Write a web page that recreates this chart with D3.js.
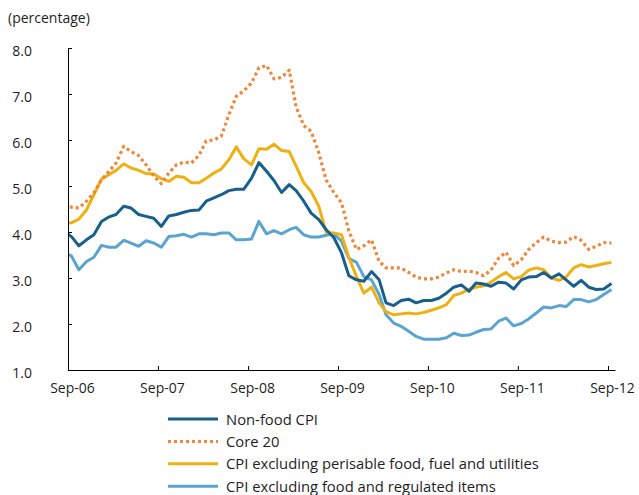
<!DOCTYPE html>
<html>
<head>
<meta charset="utf-8">
<script src="https://cdn.jsdelivr.net/npm/d3@7"></script>
<style>
  body { margin: 0; background: #fff; }
  text { font-family: "Open Sans", sans-serif; fill: #1e1e1e; }
</style>
</head>
<body>
<svg id="chart" width="639" height="495"></svg>
<script>
// Monthly year-on-year inflation measures, Aug-06 to Sep-12 (per cent)
const firstMonth = "Aug-06";
const lastMonth = "Sep-12";

const nonFoodCPI = [
  4.02, 3.90, 3.70, 3.83, 3.94, 4.23, 4.33, 4.38, 4.56, 4.52, 4.38, 4.34,
  4.30, 4.12, 4.35, 4.38, 4.43, 4.47, 4.48, 4.67, 4.74, 4.81, 4.90, 4.93,
  4.93, 5.17, 5.51, 5.32, 5.12, 4.86, 5.03, 4.90, 4.67, 4.41, 4.27, 4.05,
  3.88, 3.55, 3.05, 2.96, 2.93, 3.14, 2.96, 2.46, 2.40, 2.51, 2.54, 2.46,
  2.51, 2.51, 2.56, 2.67, 2.80, 2.85, 2.71, 2.89, 2.87, 2.82, 2.91, 2.89,
  2.76, 2.96, 3.02, 3.03, 3.12, 3.00, 3.09, 2.96, 2.82, 2.95, 2.80, 2.75,
  2.76, 2.88
];

const core20 = [
  4.56, 4.54, 4.52, 4.67, 4.85, 5.14, 5.32, 5.50, 5.86, 5.75, 5.66, 5.46,
  5.21, 5.05, 5.28, 5.46, 5.52, 5.50, 5.67, 5.98, 6.00, 6.08, 6.55, 6.95,
  7.07, 7.24, 7.57, 7.62, 7.33, 7.36, 7.52, 6.72, 6.31, 6.19, 5.72, 5.13,
  4.86, 4.64, 4.02, 3.62, 3.70, 3.83, 3.36, 3.22, 3.22, 3.22, 3.12, 3.02,
  2.98, 2.98, 3.02, 3.11, 3.18, 3.14, 3.15, 3.12, 3.05, 3.17, 3.43, 3.56,
  3.27, 3.40, 3.62, 3.77, 3.89, 3.80, 3.77, 3.78, 3.90, 3.82, 3.62, 3.69,
  3.77, 3.76
];

const cpiExPerishFuelUtil = [
  4.18, 4.20, 4.28, 4.48, 4.81, 5.15, 5.25, 5.34, 5.48, 5.39, 5.34, 5.27,
  5.26, 5.16, 5.10, 5.21, 5.19, 5.07, 5.07, 5.17, 5.28, 5.37, 5.57, 5.85,
  5.59, 5.46, 5.81, 5.80, 5.91, 5.77, 5.75, 5.43, 5.07, 4.88, 4.56, 3.99,
  3.98, 3.94, 3.45, 3.03, 2.67, 2.80, 2.46, 2.27, 2.20, 2.22, 2.24, 2.22,
  2.25, 2.30, 2.35, 2.42, 2.62, 2.67, 2.76, 2.80, 2.83, 2.91, 3.03, 3.12,
  2.98, 3.03, 3.17, 3.22, 3.18, 3.00, 2.95, 3.02, 3.22, 3.29, 3.24, 3.27,
  3.31, 3.34
];

const cpiExFoodRegulated = [
  3.55, 3.48, 3.18, 3.36, 3.45, 3.71, 3.67, 3.67, 3.82, 3.76, 3.69, 3.81,
  3.76, 3.67, 3.90, 3.92, 3.95, 3.89, 3.96, 3.96, 3.94, 3.98, 3.98, 3.83,
  3.83, 3.85, 4.23, 3.96, 4.03, 3.96, 4.05, 4.10, 3.94, 3.89, 3.89, 3.93,
  3.96, 3.80, 3.43, 3.34, 3.03, 2.96, 2.64, 2.20, 2.02, 1.95, 1.84, 1.73,
  1.67, 1.67, 1.67, 1.70, 1.80, 1.75, 1.76, 1.82, 1.88, 1.89, 2.06, 2.13,
  1.96, 2.01, 2.11, 2.24, 2.37, 2.35, 2.40, 2.38, 2.53, 2.53, 2.48, 2.53,
  2.64, 2.75
];

const seriesNames = [
  "Non-food CPI",
  "Core 20",
  "CPI excluding perisable food, fuel and utilities",
  "CPI excluding food and regulated items"
];
const seriesColors = ["#185f8c", "#f0863a", "#eeb111", "#5ba4d0"];

const yTickValues = [1, 2, 3, 4, 5, 6, 7, 8];
const xTickLabels = ["Sep-06", "Sep-07", "Sep-08", "Sep-09", "Sep-10", "Sep-11", "Sep-12"];

// ---------------------------------------------------------------------------
const svg = d3.select("#chart");
const parseMonth = d3.timeParse("%b-%y");

// observations are placed at mid-month
const months = d3.timeMonth.range(parseMonth(firstMonth), d3.timeMonth.offset(parseMonth(lastMonth), 1));
const obsDates = months.map(m => d3.timeDay.offset(m, 14));

const plotLeft = 68, plotRight = 615, plotTop = 48, plotBottom = 370;

const axisStart = parseMonth(xTickLabels[0]);
const axisTickEnd = parseMonth(xTickLabels[xTickLabels.length - 1]);
const x = d3.scaleTime().domain([axisStart, axisTickEnd]).range([plotLeft, 608]);
x.domain([axisStart, x.invert(plotRight)]).range([plotLeft, plotRight]);

const y = d3.scaleLinear().domain([1, 8]).range([plotBottom, plotTop]);

svg.append("defs").append("clipPath").attr("id", "plot-clip")
  .append("rect")
  .attr("x", plotLeft).attr("y", plotTop - 10)
  .attr("width", plotRight - plotLeft + 5).attr("height", plotBottom - plotTop + 10);

// unit label
svg.append("text").attr("x", 8).attr("y", 23)
  .style("font-size", "14px").text("(percentage)");

// series lines
const seriesData = [nonFoodCPI, core20, cpiExPerishFuelUtil, cpiExFoodRegulated];
const line = d3.line().x((d, i) => x(obsDates[i])).y(d => y(d));
const drawOrder = [3, 2, 0, 1];
const lines = svg.append("g").attr("clip-path", "url(#plot-clip)");
drawOrder.forEach(k => {
  lines.append("path")
    .datum(seriesData[k])
    .attr("fill", "none")
    .attr("stroke", seriesColors[k])
    .attr("stroke-width", k === 1 ? 3.2 : 3)
    .attr("stroke-linejoin", "round")
    .attr("stroke-dasharray", k === 1 ? "3,3" : null)
    .attr("d", line);
});

// y axis
const yAxis = svg.append("g").attr("transform", `translate(${plotLeft},0)`)
  .call(d3.axisLeft(y).tickValues(yTickValues).tickFormat(d3.format(".1f"))
    .tickSize(-4).tickSizeOuter(0).tickPadding(36));
yAxis.select(".domain").attr("stroke", "#000");
yAxis.selectAll(".tick line").attr("stroke", "#000");
yAxis.selectAll(".tick text")
  .attr("dy", "0.55em")
  .style("font-size", "14px").style("font-family", "\"Open Sans\", sans-serif").attr("fill", "#1e1e1e");

// x axis
const xAxis = svg.append("g").attr("transform", `translate(0,${plotBottom})`)
  .call(d3.axisBottom(x).tickValues(xTickLabels.map(parseMonth))
    .tickFormat(d3.timeFormat("%b-%y")).tickSize(-4).tickSizeOuter(0).tickPadding(13));
xAxis.select(".domain").attr("stroke", "#000");
xAxis.selectAll(".tick line").attr("stroke", "#000");
xAxis.selectAll(".tick text")
  .attr("dx", 4)
  .style("font-size", "14px").style("font-family", "\"Open Sans\", sans-serif").attr("fill", "#1e1e1e");

// legend
const legend = svg.append("g").attr("transform", "translate(168,419)");
seriesNames.forEach((name, k) => {
  const row = legend.append("g").attr("transform", `translate(0,${k * 22.4})`);
  row.append("line").attr("x1", 0).attr("x2", 50).attr("y1", 0).attr("y2", 0)
    .attr("stroke", seriesColors[k]).attr("stroke-width", 3)
    .attr("stroke-dasharray", k === 1 ? "3,3" : null);
  row.append("text").attr("x", 58).attr("y", 5.5)
    .style("font-size", "14.8px").text(name);
});
</script>
</body>
</html>
